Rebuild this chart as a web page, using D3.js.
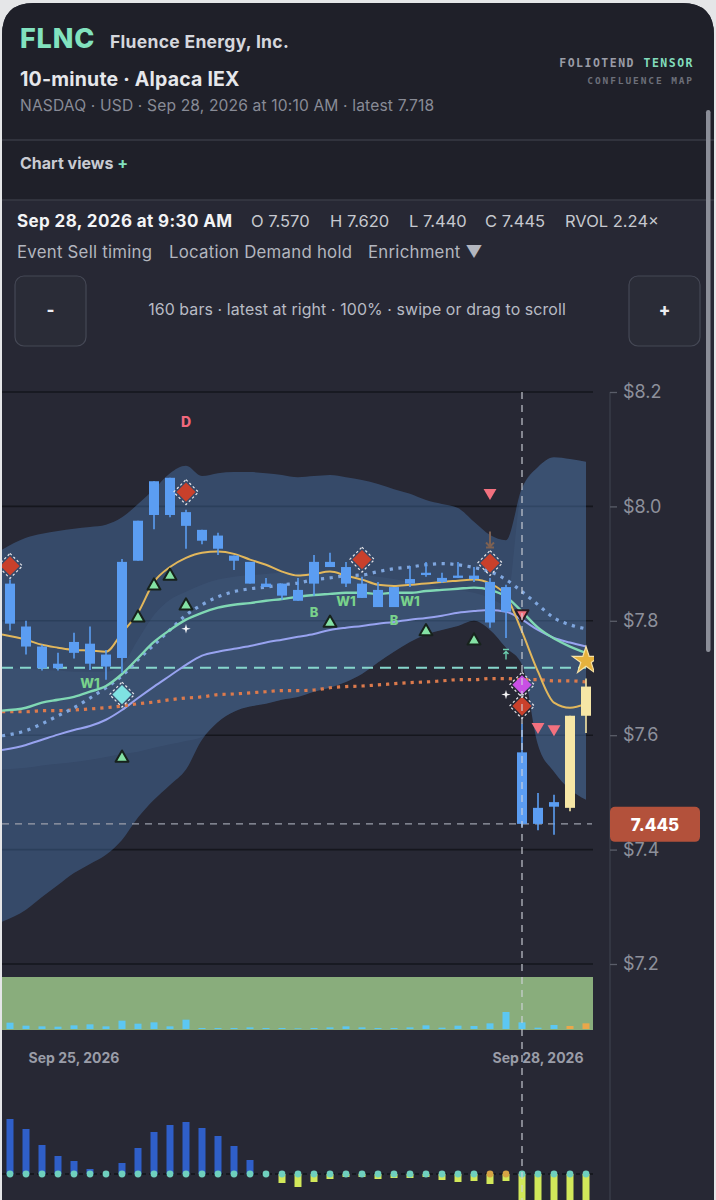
<!DOCTYPE html>
<html><head><meta charset="utf-8">
<script src="https://cdn.jsdelivr.net/npm/d3@7"></script>
<style>
html,body{margin:0;padding:0;background:#e5e6e8;}
svg{display:block;font-family:Inter,"Noto Sans",sans-serif;}
</style></head><body>
<svg id="c" width="716" height="1200"></svg>
<script>
// ---------------- DATA ----------------
const barTime = ["Sep 25 10:40","Sep 25 10:50","Sep 25 11:00","Sep 25 11:10","Sep 25 11:20","Sep 25 11:30","Sep 25 11:40","Sep 25 11:50","Sep 25 12:00","Sep 25 12:10","Sep 25 12:20","Sep 25 12:30","Sep 25 12:40","Sep 25 12:50","Sep 25 13:00","Sep 25 13:10","Sep 25 13:20","Sep 25 13:30","Sep 25 13:40","Sep 25 13:50","Sep 25 14:00","Sep 25 14:10","Sep 25 14:20","Sep 25 14:30","Sep 25 14:40","Sep 25 14:50","Sep 25 15:00","Sep 25 15:10","Sep 25 15:20","Sep 25 15:30","Sep 25 15:40","Sep 25 15:50","Sep 28 9:30","Sep 28 9:40","Sep 28 9:50","Sep 28 10:00","Sep 28 10:10"];
const open  = [7.865,7.790,7.755,7.717,7.744,7.760,7.720,7.735,7.905,7.985,8.050,7.990,7.959,7.926,7.914,7.903,7.859,7.865,7.835,7.865,7.903,7.894,7.865,7.854,7.824,7.865,7.880,7.875,7.875,7.879,7.868,7.859,7.570,7.445,7.475,7.473,7.634];
const high  = [7.872,7.800,7.758,7.744,7.779,7.790,7.749,7.908,7.975,8.044,8.050,7.994,7.959,7.954,7.914,7.903,7.875,7.865,7.875,7.915,7.919,7.903,7.877,7.868,7.859,7.896,7.903,7.884,7.903,7.894,7.875,7.863,7.620,7.499,7.496,7.634,7.699];
const low   = [7.783,7.741,7.713,7.713,7.734,7.714,7.697,7.709,7.905,7.960,7.981,7.926,7.934,7.915,7.889,7.865,7.859,7.837,7.835,7.844,7.894,7.859,7.840,7.824,7.824,7.859,7.877,7.866,7.875,7.868,7.788,7.770,7.440,7.434,7.426,7.467,7.604];
const close = [7.795,7.755,7.717,7.725,7.763,7.725,7.741,7.903,7.975,8.044,7.985,7.966,7.940,7.949,7.905,7.865,7.865,7.844,7.854,7.903,7.894,7.865,7.840,7.824,7.859,7.873,7.884,7.868,7.879,7.873,7.797,7.816,7.445,7.473,7.483,7.634,7.685];
const candleTone = ["b","b","b","b","b","b","b","b","b","b","b","b","b","b","b","b","b","b","b","b","b","b","b","b","b","b","b","b","b","b","b","b","b","b","b","c","c"];
const volumeK = [19,10,8,7,11,14,8,25,16,20,8,28,3,3,3,5,3,3,2,3,5,8,5,3,3,5,11,4,10,9,17,51,20,4,12,9,17];
const volumeTone = ["b","b","b","b","b","b","b","b","b","b","b","b","b","b","b","b","b","b","b","b","b","b","b","b","b","b","b","b","b","b","b","b","b","b","b","o","o"];
const emaFast = [7.776,7.767,7.758,7.753,7.749,7.748,7.746,7.779,7.814,7.868,7.894,7.910,7.919,7.921,7.917,7.907,7.898,7.886,7.879,7.882,7.886,7.879,7.872,7.863,7.861,7.863,7.865,7.868,7.870,7.872,7.865,7.844,7.781,7.711,7.657,7.648,7.655];
const emaMid  = [7.643,7.648,7.657,7.662,7.667,7.676,7.686,7.707,7.735,7.763,7.784,7.802,7.814,7.823,7.828,7.831,7.835,7.838,7.842,7.845,7.847,7.849,7.849,7.847,7.849,7.849,7.852,7.854,7.856,7.858,7.854,7.842,7.816,7.788,7.769,7.755,7.744];
const trendDotted = [7.599,7.608,7.620,7.634,7.648,7.665,7.683,7.704,7.732,7.758,7.784,7.810,7.828,7.842,7.851,7.856,7.859,7.863,7.866,7.872,7.875,7.879,7.880,7.886,7.891,7.894,7.898,7.900,7.898,7.893,7.886,7.872,7.851,7.828,7.805,7.793,7.786];
const emaSlow = [7.574,7.583,7.592,7.601,7.609,7.616,7.627,7.644,7.665,7.685,7.704,7.723,7.739,7.746,7.751,7.756,7.762,7.767,7.772,7.777,7.784,7.788,7.791,7.795,7.798,7.802,7.805,7.809,7.814,7.817,7.819,7.816,7.802,7.784,7.770,7.762,7.755];
const vwap = [7.641,7.641,7.643,7.643,7.644,7.646,7.648,7.651,7.655,7.658,7.662,7.665,7.667,7.671,7.672,7.674,7.676,7.678,7.678,7.679,7.683,7.685,7.686,7.688,7.690,7.692,7.693,7.695,7.697,7.697,7.699,7.699,7.697,7.697,7.695,7.695,7.693];
const bandUpper = [7.924,7.945,7.952,7.957,7.961,7.964,7.968,7.981,8.004,8.030,8.058,8.071,8.053,8.058,8.060,8.060,8.058,8.055,8.051,8.053,8.055,8.051,8.046,8.039,8.030,8.022,8.011,8.004,7.997,7.973,7.950,7.941,8.032,8.069,8.086,8.083,8.078];
const bandLower = [7.274,7.295,7.317,7.338,7.359,7.375,7.391,7.417,7.456,7.487,7.513,7.540,7.592,7.623,7.641,7.650,7.655,7.662,7.667,7.676,7.683,7.693,7.707,7.727,7.746,7.763,7.776,7.784,7.791,7.800,7.784,7.753,7.723,7.583,7.536,7.505,7.487];
const coreUpper = [7.718,7.716,7.714,7.713,7.711,7.711,7.711,7.723,7.767,7.810,7.837,7.851,7.863,7.872,7.877,7.880,7.882,7.884,7.884,7.884,7.882,7.880,7.880,7.877,7.873,7.868,7.863,7.858,7.854,7.849,7.840,7.828,8.032,8.069,8.086,8.083,8.078];
const coreLower = [7.540,7.543,7.547,7.550,7.553,7.557,7.562,7.567,7.571,7.578,7.584,7.590,7.597,7.623,7.641,7.650,7.655,7.662,7.667,7.676,7.683,7.693,7.707,7.727,7.746,7.763,7.776,7.784,7.791,7.800,7.784,7.753,7.723,7.583,7.536,7.505,7.487];
const histogram = [0.055,0.045,0.029,0.018,0.013,0.005,0.000,0.011,0.026,0.042,0.049,0.052,0.046,0.038,0.028,0.014,0.000,-0.009,-0.013,-0.008,-0.005,-0.003,-0.003,-0.005,-0.004,-0.004,-0.003,-0.006,-0.008,-0.007,-0.010,-0.007,-0.045,-0.045,-0.045,-0.045,-0.045];
const histDotTone = ["t","t","t","t","t","t","t","t","t","t","t","t","t","t","t","t","t","t","t","t","t","t","t","t","t","t","t","t","t","t","o","o","t","t","t","t","t"];
const yTicks = [7.2,7.4,7.6,7.8,8.0,8.2];
const dateTickBars = ["Sep 25 11:20","Sep 28 9:40"];
const dateTickLabels = ["Sep 25, 2026","Sep 28, 2026"];
const selectedBar = "Sep 28 9:30";
const latestPrice = 7.718;
const selectedClose = 7.445;
const diamonds = [
  {bar:"Sep 25 10:40", price:7.896, kind:"sell"},
  {bar:"Sep 25 12:30", price:8.025, kind:"sell"},
  {bar:"Sep 25 14:20", price:7.907, kind:"sell"},
  {bar:"Sep 25 15:40", price:7.901, kind:"sell"},
  {bar:"Sep 28 9:30",  price:7.651, kind:"sell"},
  {bar:"Sep 28 9:30",  price:7.688, kind:"magenta"},
  {bar:"Sep 25 11:50", price:7.671, kind:"cyan"}
];
const upTriangles = [
  {bar:"Sep 25 12:00", price:7.807},{bar:"Sep 25 12:10", price:7.863},{bar:"Sep 25 12:20", price:7.880},
  {bar:"Sep 25 12:30", price:7.828},{bar:"Sep 25 11:50", price:7.562},{bar:"Sep 25 14:00", price:7.798},
  {bar:"Sep 25 15:00", price:7.783},{bar:"Sep 25 15:30", price:7.767}
];
const downTriangles = [
  {bar:"Sep 25 15:40", price:8.024, edge:false},{bar:"Sep 28 9:30", price:7.812, edge:true},
  {bar:"Sep 28 9:40", price:7.615, edge:false},{bar:"Sep 28 9:50", price:7.611, edge:false}
];
const sparkles = [{bar:"Sep 25 12:30", price:7.786},{bar:"Sep 25 15:50", price:7.671}];
const textTags = [
  {bar:"Sep 25 12:30", price:8.148, text:"D", kind:"d"},
  {bar:"Sep 25 11:30", price:7.692, text:"W1", kind:"g"},
  {bar:"Sep 25 14:10", price:7.835, text:"W1", kind:"g"},
  {bar:"Sep 25 14:50", price:7.835, text:"W1", kind:"g"},
  {bar:"Sep 25 13:50", price:7.816, text:"B", kind:"g"},
  {bar:"Sep 25 14:40", price:7.802, text:"B", kind:"g"}
];
const starMark = {bar:"Sep 28 10:10", price:7.730};
const upArrowMark = {bar:"Sep 25 15:50", price:7.741};
const downArrowMark = {bar:"Sep 25 15:40", price:7.942};

// ---------------- DRAW ----------------
const svg = d3.select("#c");
const W = 716, H = 1200;
const plotL = 2, plotR = 594;

// card background
svg.append("rect").attr("width",W).attr("height",H).attr("fill","#e5e6e8");
svg.append("path").attr("d",`M2,1200 L2,35 Q2,3 34,3 L682,3 Q714,3 714,35 L714,1200 Z`).attr("fill","#272834");
svg.append("path").attr("d",`M2,200 L2,35 Q2,3 34,3 L682,3 Q714,3 714,35 L714,200 Z`).attr("fill","#1f2029");
svg.append("line").attr("x1",2).attr("x2",714).attr("y1",140).attr("y2",140).attr("stroke","#383a45").attr("stroke-width",1.5);
svg.append("line").attr("x1",2).attr("x2",714).attr("y1",200).attr("y2",200).attr("stroke","#383a45").attr("stroke-width",1.5);

// header
const hdr = svg.append("g");
hdr.append("text").attr("x",20).attr("y",48).attr("font-size",27).attr("font-weight",800).attr("letter-spacing",0.8).attr("fill","#82e2bf").text("FLNC");
hdr.append("text").attr("x",110).attr("y",48).attr("font-size",17.5).attr("font-weight",700).attr("letter-spacing",0.3).attr("fill","#d5d7dd").text("Fluence Energy, Inc.");
hdr.append("text").attr("x",20).attr("y",86).attr("font-size",19.5).attr("font-weight",700).attr("letter-spacing",0.2).attr("fill","#e6e7eb").text("10-minute · Alpaca IEX");
hdr.append("text").attr("x",20).attr("y",111).attr("font-size",15.6).attr("letter-spacing",0.15).attr("fill","#888b96").text("NASDAQ · USD · Sep 28, 2026 at 10:10 AM · latest 7.718");
const brand = hdr.append("text").attr("x",694).attr("y",67).attr("text-anchor","end").attr("font-family","'DejaVu Sans Mono',monospace").attr("font-size",11.5).attr("font-weight",700).attr("letter-spacing",1.5);
brand.append("tspan").attr("fill","#9a9ca6").text("FOLIOTEND ");
brand.append("tspan").attr("fill","#82dcbc").text("TENSOR");
hdr.append("text").attr("x",694).attr("y",84).attr("text-anchor","end").attr("font-family","'DejaVu Sans Mono',monospace").attr("font-size",9.5).attr("font-weight",700).attr("letter-spacing",1.9).attr("fill","#6c6f79").text("CONFLUENCE MAP");
const cv = hdr.append("text").attr("x",20).attr("y",169).attr("font-size",16).attr("font-weight",700).attr("fill","#c9cbd2");
cv.append("tspan").text("Chart views ");
cv.append("tspan").attr("fill","#82e2bf").text("+");

// scrollbar
svg.append("rect").attr("x",706).attr("y",110).attr("width",4.5).attr("height",542).attr("rx",2.2).attr("fill","#8b8e98");

// info rows
svg.append("text").attr("x",17).attr("y",227).attr("font-size",17).attr("font-weight",700).attr("letter-spacing",0.4).attr("fill","#f3f4f6").text("Sep 28, 2026 at 9:30 AM");
[["O 7.570",251],["H 7.620",330],["L 7.440",409],["C 7.445",485],["RVOL 2.24×",565]].forEach(([t,xx])=>{
  svg.append("text").attr("x",xx).attr("y",227).attr("font-size",16.5).attr("fill","#c6c8cf").text(t);
});
[["Event Sell timing",17],["Location Demand hold",169],["Enrichment ▼",368]].forEach(([t,xx])=>{
  svg.append("text").attr("x",xx).attr("y",258).attr("font-size",16.8).attr("letter-spacing",0.25).attr("fill","#b3b6bf").text(t);
});
[[15,"-"],[629,"+"]].forEach(([xx,t])=>{
  svg.append("rect").attr("x",xx).attr("y",276).attr("width",71).attr("height",70).attr("rx",9).attr("fill","#2a2c37").attr("stroke","#454855").attr("stroke-width",1.2);
  svg.append("text").attr("x",xx+35.5).attr("y",316).attr("text-anchor","middle").attr("font-size",17).attr("font-weight",800).attr("fill","#eceef2").text(t);
});
svg.append("text").attr("x",357).attr("y",315).attr("text-anchor","middle").attr("font-size",15.9).attr("letter-spacing",0.1).attr("fill","#b8bbc4").text("160 bars · latest at right · 100% · swipe or drag to scroll");

// scales
const x = d3.scaleBand().domain(barTime).range([plotL, plotR]).paddingInner(0.375).paddingOuter(0.1875);
const cx = t => x(t) + x.bandwidth()/2;
const y = d3.scaleLinear().domain([7.2, 8.2]).range([964, 392]);
const idx = d3.range(barTime.length);
const X = i => cx(barTime[i]);
// series continue in from the left edge of the pane (earlier bars are scrolled off)
const XE = i => i === 0 ? plotL : X(i);

svg.append("defs").append("clipPath").attr("id","plotclip").append("rect").attr("x",plotL).attr("y",360).attr("width",plotR-plotL).attr("height",612);
const plot = svg.append("g").attr("clip-path","url(#plotclip)");

// gridlines
plot.append("g").selectAll("line").data(yTicks).join("line")
  .attr("x1",plotL).attr("x2",plotR-1).attr("y1",d=>y(d)).attr("y2",d=>y(d))
  .attr("stroke","#15161d").attr("stroke-width",1.6);

// band
const area = (lo, up) => d3.area().x(XE).y0(i=>y(lo[i])).y1(i=>y(up[i])).curve(d3.curveMonotoneX);
plot.append("path").datum(idx).attr("d",area(bandLower,bandUpper)).attr("fill","rgb(78,124,186)").attr("fill-opacity",0.40);
plot.append("path").datum(idx).attr("d",area(coreLower,coreUpper)).attr("fill","rgb(110,150,205)").attr("fill-opacity",0.08);

// horizontal reference lines
plot.append("line").attr("x1",plotL).attr("x2",X(36)).attr("y1",y(latestPrice)).attr("y2",y(latestPrice))
  .attr("stroke","#86d6cc").attr("stroke-width",2).attr("stroke-dasharray","11,7");
plot.append("line").attr("x1",plotL).attr("x2",plotR-2).attr("y1",y(selectedClose)).attr("y2",y(selectedClose))
  .attr("stroke","#9c9fab").attr("stroke-width",1.4).attr("stroke-dasharray","7,6");

// lines
const line = arr => d3.line().x(XE).y(i=>y(arr[i])).curve(d3.curveMonotoneX);
plot.append("path").datum(idx).attr("d",line(emaSlow)).attr("fill","none").attr("stroke","#98a3f0").attr("stroke-width",2);
plot.append("path").datum(idx).attr("d",line(vwap)).attr("fill","none").attr("stroke","#dc7a4c").attr("stroke-width",3.2).attr("stroke-dasharray","3.2,5");
plot.append("path").datum(idx).attr("d",line(trendDotted)).attr("fill","none").attr("stroke","#7fa6de").attr("stroke-width",3.2).attr("stroke-dasharray","3.2,5.5");
plot.append("path").datum(idx).attr("d",line(emaMid)).attr("fill","none").attr("stroke","#80d8b4").attr("stroke-width",2.4);
plot.append("path").datum(idx).attr("d",line(emaFast)).attr("fill","none").attr("stroke","#e2b75c").attr("stroke-width",2);

// candles
const toneFill = {b:"#5b9df2", c:"#f6e6a6"};
const cg = plot.append("g");
idx.forEach(i=>{
  const col = toneFill[candleTone[i]];
  cg.append("line").attr("x1",X(i)).attr("x2",X(i)).attr("y1",y(high[i])).attr("y2",y(low[i])).attr("stroke",col).attr("stroke-width",1.6);
  const top = y(Math.max(open[i],close[i])), bot = y(Math.min(open[i],close[i]));
  cg.append("rect").attr("x",x(barTime[i])).attr("y",top).attr("width",x.bandwidth()).attr("height",Math.max(bot-top,2)).attr("fill",col);
});

// markers
const mk = plot.append("g");
const diaFill = {sell:"#c9402b", magenta:"#c94fe4", cyan:"#7fe2e2"};
diamonds.forEach(d=>{
  const g = mk.append("g").attr("transform",`translate(${cx(d.bar)},${y(d.price)}) rotate(45)`);
  g.append("rect").attr("x",-8.8).attr("y",-8.8).attr("width",17.6).attr("height",17.6).attr("fill","none").attr("stroke","#e6e6ea").attr("stroke-width",1.2).attr("stroke-dasharray","2.4,2.4");
  g.append("rect").attr("x",-6.8).attr("y",-6.8).attr("width",13.6).attr("height",13.6).attr("fill",diaFill[d.kind]);
});
const tri = d3.symbol(d3.symbolTriangle, 72);
upTriangles.forEach(d=>{
  mk.append("path").attr("d",tri()).attr("transform",`translate(${cx(d.bar)},${y(d.price)+1})`).attr("fill","#84e2a4").attr("stroke","#17221c").attr("stroke-width",2).attr("stroke-linejoin","round");
});
downTriangles.forEach(d=>{
  mk.append("path").attr("d",tri()).attr("transform",`translate(${cx(d.bar)},${y(d.price)}) rotate(180)`).attr("fill","#f2717f")
    .attr("stroke",d.edge?"#2a1c22":"none").attr("stroke-width",2).attr("stroke-linejoin","round");
});
const sparkle = {draw(ctx, size){ const r=Math.sqrt(size), k=r*0.22; ctx.moveTo(0,-r); ctx.lineTo(k,-k); ctx.lineTo(r,0); ctx.lineTo(k,k); ctx.lineTo(0,r); ctx.lineTo(-k,k); ctx.lineTo(-r,0); ctx.lineTo(-k,-k); ctx.closePath(); }};
sparkles.forEach(d=>{
  mk.append("path").attr("d",d3.symbol(sparkle,22)()).attr("transform",`translate(${cx(d.bar)},${y(d.price)})`).attr("fill","#f4f4f6");
});
textTags.forEach(d=>{
  mk.append("text").attr("x",cx(d.bar)).attr("y",y(d.price)+5).attr("text-anchor","middle")
    .attr("font-size",d.kind==="d"?14:13).attr("font-weight",800)
    .attr("fill",d.kind==="d"?"#f2687c":"#79d28c").text(d.text);
});
mk.append("path").attr("d",d3.symbol(d3.symbolStar,230)()).attr("transform",`translate(${cx(starMark.bar)},${y(starMark.price)})`)
  .attr("fill","#e6b23d").attr("stroke","#f7e2a6").attr("stroke-width",1.2);
// small arrows
const ua = mk.append("g").attr("transform",`translate(${cx(upArrowMark.bar)},${y(upArrowMark.price)})`).attr("stroke","#6ccfb0").attr("stroke-width",1.4).attr("fill","none");
ua.append("path").attr("d","M-3,-5 L3,-5 M0,-3 L0,5 M-2.5,-0.5 L0,-3 L2.5,-0.5");
const da = mk.append("g").attr("transform",`translate(${cx(downArrowMark.bar)},${y(downArrowMark.price)})`).attr("stroke","#7d6152").attr("stroke-width",2).attr("fill","none");
da.append("path").attr("d","M0,-8 L0,7 M-4,3 L0,7 L4,3 M-4,8 L4,8");

// volume pane
const volTop = 977, volBot = 1030;
svg.append("rect").attr("x",plotL).attr("y",volTop).attr("width",plotR-plotL-1).attr("height",volBot-volTop).attr("fill","#89ad7c");
const vy = d3.scaleLinear().domain([0,156]).range([volBot-1, volTop]);
svg.append("g").selectAll("rect").data(idx).join("rect")
  .attr("x",i=>X(i)-3.5).attr("width",7).attr("y",i=>vy(volumeK[i])).attr("height",i=>vy(0)-vy(volumeK[i]))
  .attr("fill",i=>volumeTone[i]==="o"?"#eaa74a":"#5cc7f2");

// date axis
const xAxis = d3.axisBottom(x).tickValues(dateTickBars).tickFormat(t=>dateTickLabels[dateTickBars.indexOf(t)]).tickSize(0).tickPadding(3);
const xa = svg.append("g").attr("transform","translate(0,1050)").call(xAxis);
xa.select(".domain").remove();
xa.selectAll("text").attr("font-size",14).attr("font-weight",700).attr("fill","#9a9da8").attr("font-family","Inter,sans-serif");

// histogram pane
const hy = d3.scaleLinear().domain([0,0.05]).range([1174,1124]);
svg.append("line").attr("x1",plotL).attr("x2",plotR-1).attr("y1",hy(0)).attr("y2",hy(0)).attr("stroke","#121318").attr("stroke-width",1.5).attr("stroke-dasharray","4,3");
svg.append("g").selectAll("rect").data(idx.filter(i=>histogram[i]!==0)).join("rect")
  .attr("x",i=>X(i)-3.5).attr("width",7)
  .attr("y",i=>hy(Math.max(0,histogram[i]))).attr("height",i=>Math.abs(hy(histogram[i])-hy(0)))
  .attr("fill",i=>histogram[i]>0?"#2f5fc9":"#d2e85a");
svg.append("g").selectAll("circle").data(idx).join("circle")
  .attr("cx",X).attr("cy",hy(0)).attr("r",3.4)
  .attr("fill",i=>histDotTone[i]==="o"?"#d6a444":"#6fd0be");

// y axis
svg.append("line").attr("x1",610).attr("x2",610).attr("y1",392).attr("y2",H).attr("stroke","#3b3e4b").attr("stroke-width",1.3);
const yAxis = d3.axisRight(y).tickValues(yTicks).tickFormat(d=>"$"+d.toFixed(1)).tickSize(7).tickPadding(6);
const ya = svg.append("g").attr("transform","translate(610,0)").call(yAxis);
ya.select(".domain").remove();
ya.selectAll("line").attr("stroke","#5a5d69").attr("stroke-width",1.3);
ya.selectAll("text").attr("font-size",18).attr("fill","#8d909b").attr("font-family","Inter,sans-serif");

// selected bar vertical dashed line
svg.append("line").attr("x1",cx(selectedBar)).attr("x2",cx(selectedBar)).attr("y1",392).attr("y2",H)
  .attr("stroke","#d2d5dc").attr("stroke-width",1.3).attr("stroke-dasharray","7,6").attr("opacity",0.85);

// price label
svg.append("rect").attr("x",610).attr("y",y(selectedClose)-17).attr("width",90).attr("height",35).attr("rx",5).attr("fill","#b3513b");
svg.append("text").attr("x",655).attr("y",y(selectedClose)+7).attr("text-anchor","middle").attr("font-size",17).attr("font-weight",800).attr("fill","#ffffff").text(selectedClose.toFixed(3));
</script>
</body></html>
